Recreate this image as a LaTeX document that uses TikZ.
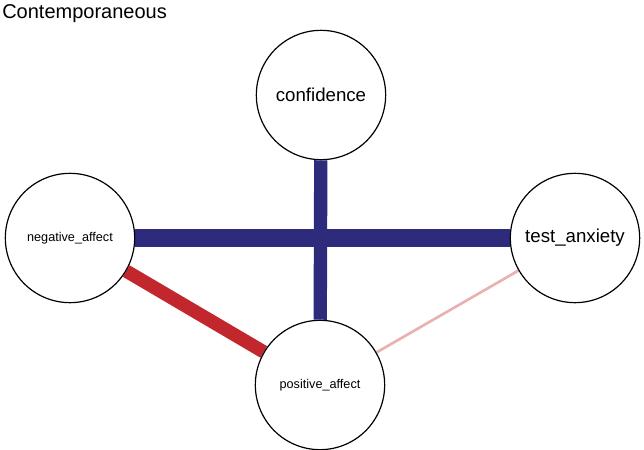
\documentclass[tikz,border=0pt]{standalone}
\usepackage{fontspec}
\setmainfont{Liberation Sans}
\pgfdeclarelayer{bg}
\pgfsetlayers{bg,main}
\definecolor{posblue}{HTML}{2E2A7C}
\definecolor{negred}{HTML}{C1272D}
\definecolor{weakred}{HTML}{E8B2B3}
\tikzset{
  var/.style={circle, draw, fill=white, line width=0.9pt, minimum size=97pt, inner sep=0pt},
  edge/.style={line cap=butt}
}
\begin{document}
\begin{tikzpicture}[x=0.75pt, y=-0.75pt]
                \useasboundingbox (0,0) rectangle (644,450);
                \node[anchor=north west, inner sep=0pt, font=\fontsize{15}{17}\selectfont] (title) at (2,4) {Contemporaneous};

                \node[var, font=\fontsize{14}{16}\selectfont] (confidence) at (321,95) {confidence};
                \node[var, font=\fontsize{9.5}{11}\selectfont] (negative) at (70,238) {negative\_affect};
                \node[var, font=\fontsize{14}{16}\selectfont] (anxiety) at (575,238) {test\_anxiety};
                \node[var, font=\fontsize{9.5}{11}\selectfont] (positive) at (320,385) {positive\_affect};

                \begin{pgfonlayer}{bg}
                \draw[edge, posblue, line width=13pt] (negative) -- (anxiety);
                \draw[edge, posblue, line width=10pt] (confidence) -- (positive);
                \draw[edge, negred, line width=10pt] (negative) -- (positive);
                \draw[edge, weakred, line width=2pt] (anxiety) -- (positive);
                \end{pgfonlayer}
            \end{tikzpicture}
\end{document}
